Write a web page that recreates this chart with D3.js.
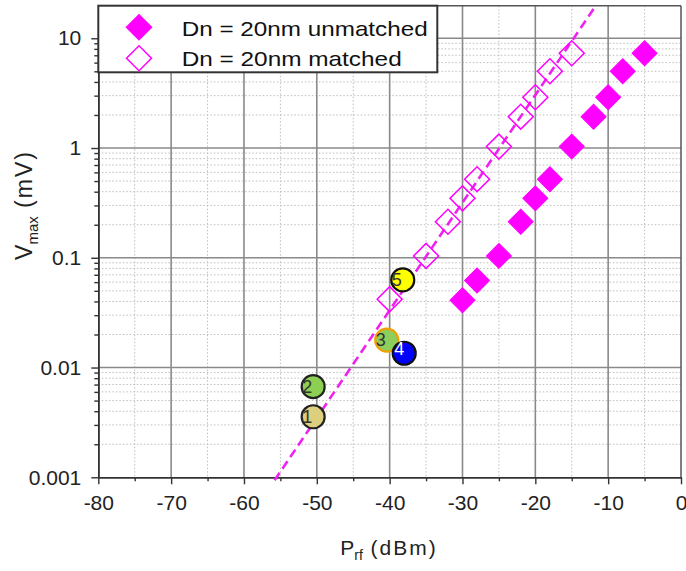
<!DOCTYPE html>
<html><head><meta charset="utf-8">
<script src="https://cdn.jsdelivr.net/npm/d3@7"></script>
<style>body{margin:0;background:#fff}svg{display:block;font-family:"Liberation Sans",Arial,sans-serif}</style>
</head><body>
<svg id="c" width="686" height="571"></svg>
<script>
// ---- data ----
const unmatchedP = [-30, -28, -25, -22, -20, -18, -15, -12, -10, -8, -5];
const unmatchedV = [0.041, 0.062, 0.104, 0.213, 0.348, 0.52, 1.03, 1.93, 2.9, 5.0, 7.3];
const matchedP = [-40, -35, -32, -30, -28, -25, -22, -20, -18, -15];
const matchedV = [0.042, 0.104, 0.213, 0.348, 0.52, 1.03, 1.93, 2.9, 5.0, 7.3];
const fitP = [-55.8, -11.7];
const fitV = [0.00094, 19.8];
const circleP = [-50.5, -50.5, -40.4, -38.0, -38.2];
const circleV = [0.00356, 0.0067, 0.0178, 0.0135, 0.0628];
const circleLabels = ["1", "2", "3", "4", "5"];
const xTicks = [-80, -70, -60, -50, -40, -30, -20, -10, 0];
const xTickLabels = ["-80", "-70", "-60", "-50", "-40", "-30", "-20", "-10", "0"];
const yTicks = [0.001, 0.01, 0.1, 1, 10];
const yTickLabels = ["0.001", "0.01", "0.1", "1", "10"];
const legendLabels = ["Dn = 20nm unmatched", "Dn = 20nm matched"];

// ---- styles ----
const circleFill = ["#dcd07e", "#8dcf52", "#8dcf5a", "#0000ff", "#ffff00"];
const circleStroke = ["#222", "#222", "#f0a000", "#111", "#111"];
const circleText = ["#333", "#333", "#333", "#fff", "#333"];
const MAG = "#ff00ff";

const L = 98.3, R = 681, T = 5.7, B = 477.3;
const svg = d3.select("#c");
const x = d3.scaleLinear().domain([-80, 0]).range([L, R]);
const y = d3.scaleLog().domain([0.001, 19.8]).range([B, T]);

// minor values
const yMinor = [];
[0.001, 0.01, 0.1, 1].forEach(d => { for (let k = 2; k <= 9; k++) yMinor.push(d * k); });
const xMinor = d3.range(-75, 0, 10);

// minor grid
const g = svg.append("g");
g.selectAll(".hm").data(yMinor).join("line")
  .attr("x1", L).attr("x2", R).attr("y1", d => y(d)).attr("y2", d => y(d))
  .attr("stroke", "#bdbdbd").attr("stroke-width", 1).attr("stroke-dasharray", "1.5,2");
g.selectAll(".vm").data(xMinor).join("line")
  .attr("y1", T).attr("y2", B).attr("x1", d => x(d)).attr("x2", d => x(d))
  .attr("stroke", "#bdbdbd").attr("stroke-width", 1).attr("stroke-dasharray", "1.5,2");
// major grid
g.selectAll(".hM").data(yTicks.slice(1)).join("line")
  .attr("x1", L).attr("x2", R).attr("y1", d => y(d)).attr("y2", d => y(d))
  .attr("stroke", "#8a8a8a").attr("stroke-width", 1.6);
g.selectAll(".vM").data(xTicks.slice(1, -1)).join("line")
  .attr("y1", T).attr("y2", B).attr("x1", d => x(d)).attr("x2", d => x(d))
  .attr("stroke", "#8a8a8a").attr("stroke-width", 1.6);

// frame
svg.append("line").attr("x1", L).attr("x2", R).attr("y1", T).attr("y2", T).attr("stroke", "#555").attr("stroke-width", 1.5);
svg.append("line").attr("x1", R).attr("x2", R).attr("y1", T).attr("y2", B).attr("stroke", "#555").attr("stroke-width", 1.5);

// axes
const xAx = svg.append("g").attr("transform", `translate(0,${B})`)
  .call(d3.axisBottom(x).tickValues(xTicks).tickSize(7).tickSizeOuter(0).tickFormat((d, i) => xTickLabels[i]));
const xAxMinor = svg.append("g").attr("transform", `translate(0,${B})`)
  .call(d3.axisBottom(x).tickValues(xMinor).tickSize(4).tickSizeOuter(0).tickFormat(""));
const yAx = svg.append("g").attr("transform", `translate(${L},0)`)
  .call(d3.axisLeft(y).tickValues(yTicks).tickSize(7).tickSizeOuter(0).tickFormat((d, i) => yTickLabels[i]));
const yAxMinor = svg.append("g").attr("transform", `translate(${L},0)`)
  .call(d3.axisLeft(y).tickValues(yMinor).tickSize(4).tickSizeOuter(0).tickFormat(""));
[xAx, xAxMinor, yAx, yAxMinor].forEach(a => {
  a.select(".domain").attr("stroke", "#333").attr("stroke-width", 1.6);
  a.selectAll(".tick line").attr("stroke", "#333").attr("stroke-width", 1.4);
  a.selectAll("text").attr("font-family", "Liberation Sans, Arial, sans-serif").attr("font-size", 21).attr("fill", "#222");
});
xAx.selectAll("text").attr("y", 0).attr("dy", 0).attr("transform", "translate(0,33)");
yAx.selectAll("text").attr("x", -17);

// clip
svg.append("clipPath").attr("id", "clip").append("rect").attr("x", L).attr("y", T).attr("width", R - L).attr("height", B - T + 6);

// fit line
svg.append("path").attr("clip-path", "url(#clip)")
  .datum(d3.zip(fitP, fitV))
  .attr("d", d3.line().x(d => x(d[0])).y(d => y(d[1])))
  .attr("fill", "none").attr("stroke", "#ee22ee").attr("stroke-width", 2.6).attr("stroke-dasharray", "9,5");

const diamond = d3.symbol().type(d3.symbolSquare).size(312);
// matched (hollow)
svg.append("g").selectAll("path").data(d3.zip(matchedP, matchedV)).join("path")
  .attr("d", diamond)
  .attr("transform", d => `translate(${x(d[0])},${y(d[1])}) rotate(45)`)
  .attr("fill", "none").attr("stroke", MAG).attr("stroke-width", 1.5);
// unmatched (filled)
svg.append("g").selectAll("path").data(d3.zip(unmatchedP, unmatchedV)).join("path")
  .attr("d", diamond)
  .attr("transform", d => `translate(${x(d[0])},${y(d[1])}) rotate(45)`)
  .attr("fill", MAG).attr("stroke", MAG).attr("stroke-width", 1);

// circles
const cg = svg.append("g").selectAll("g").data(circleP.map((p, i) => ({p, v: circleV[i], i}))).join("g")
  .attr("transform", d => `translate(${x(d.p)},${y(d.v)})`);
cg.append("circle").attr("r", 11.5)
  .attr("fill", d => circleFill[d.i]).attr("stroke", d => circleStroke[d.i]).attr("stroke-width", 2.2);
cg.append("text").text(d => circleLabels[d.i])
  .attr("x", d => d.i === 3 ? -5 : -6).attr("y", d => d.i === 3 ? 2 : 6)
  .attr("text-anchor", "middle").attr("font-size", 18).attr("fill", d => circleText[d.i]);

// legend
const lg = svg.append("g");
lg.append("rect").attr("x", 98.3).attr("y", T).attr("width", 339).attr("height", 66.6)
  .attr("fill", "#fff").attr("stroke", "#333").attr("stroke-width", 2);
const legY = [27.3, 58.3];
const legBase = [36, 65.5];
const legLen = [246, 220];
legendLabels.forEach((t, i) => {
  lg.append("path").attr("d", diamond)
    .attr("transform", `translate(139,${legY[i]}) rotate(45)`)
    .attr("fill", i === 0 ? MAG : "#fff").attr("stroke", MAG).attr("stroke-width", 1.5);
  lg.append("text").attr("x", 181.7).attr("y", legBase[i]).attr("font-size", 21)
    .attr("textLength", legLen[i]).attr("lengthAdjust", "spacingAndGlyphs").attr("fill", "#111").text(t);
});

// axis titles
const xt = svg.append("text").attr("x", 389).attr("y", 555).attr("text-anchor", "middle")
  .attr("font-size", 21).attr("fill", "#222");
xt.append("tspan").text("P");
xt.append("tspan").text("rf").attr("font-size", 14).attr("dy", 5);
xt.append("tspan").text(" (dBm)").attr("dy", -5).attr("letter-spacing", 2);

const yt = svg.append("text").attr("transform", "translate(32,205) rotate(-90)").attr("text-anchor", "middle")
  .attr("font-size", 23).attr("fill", "#222");
yt.append("tspan").text("V");
yt.append("tspan").text("max").attr("font-size", 15).attr("dy", 6);
yt.append("tspan").text(" (mV)").attr("dy", -6).attr("letter-spacing", 2);
</script>
</body></html>
